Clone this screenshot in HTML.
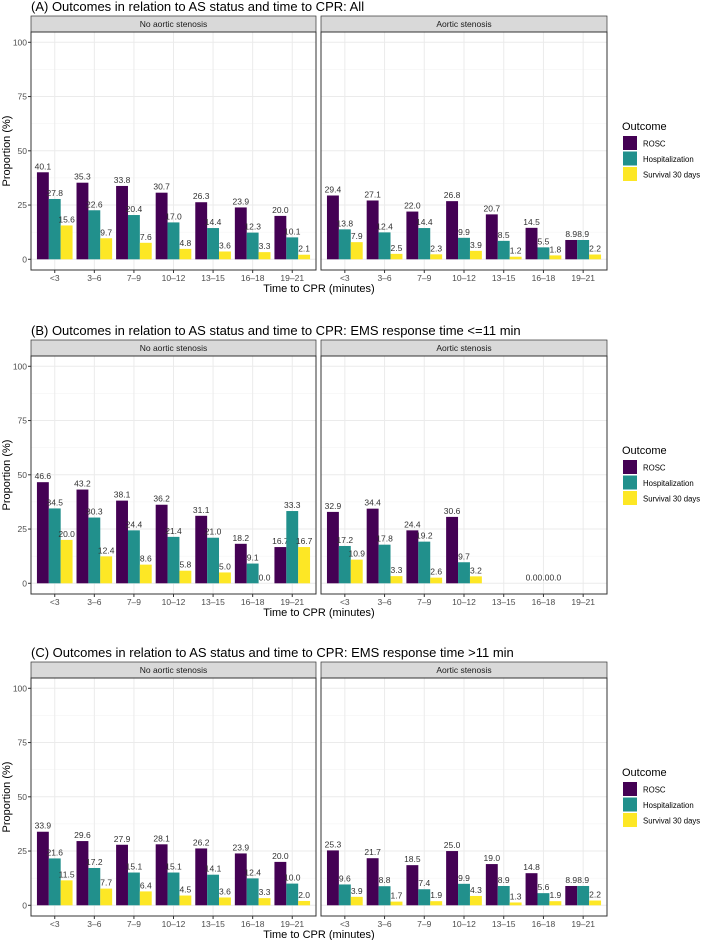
<!DOCTYPE html>
<html><head><meta charset="utf-8"><style>
html,body{margin:0;padding:0;background:#fff;}
svg{display:block;font-family:"Liberation Sans",Arial,sans-serif;}
</style></head><body>
<svg id="fig" width="702" height="940" viewBox="0 0 702 940" xmlns="http://www.w3.org/2000/svg"></svg>
<script>
const categories = ["<3","3\u20136","7\u20139","10\u201312","13\u201315","16\u201318","19\u201321"];
const seriesNames = ["ROSC","Hospitalization","Survival 30 days"];
const panelTitles = ["(A) Outcomes in relation to AS status and time to CPR: All",
 "(B) Outcomes in relation to AS status and time to CPR: EMS response time <=11 min",
 "(C) Outcomes in relation to AS status and time to CPR: EMS response time >11 min"];
const facetNames = ["No aortic stenosis","Aortic stenosis"];
const yTicks = [0,25,50,75,100];
// A
const aNoRosc = [40.1,35.3,33.8,30.7,26.3,23.9,20.0];
const aNoHosp = [27.8,22.6,20.4,17.0,14.4,12.3,10.1];
const aNoSurv = [15.6,9.7,7.6,4.8,3.6,3.3,2.1];
const aAsRosc = [29.4,27.1,22.0,26.8,20.7,14.5,8.9];
const aAsHosp = [13.8,12.4,14.4,9.9,8.5,5.5,8.9];
const aAsSurv = [7.9,2.5,2.3,3.9,1.2,1.8,2.2];
// B
const bNoRosc = [46.6,43.2,38.1,36.2,31.1,18.2,16.7];
const bNoHosp = [34.5,30.3,24.4,21.4,21.0,9.1,33.3];
const bNoSurv = [20.0,12.4,8.6,5.8,5.0,0.0,16.7];
const bAsRosc = [32.9,34.4,24.4,30.6,null,0.0,null];
const bAsHosp = [17.2,17.8,19.2,9.7,null,0.0,null];
const bAsSurv = [10.9,3.3,2.6,3.2,null,0.0,null];
// C
const cNoRosc = [33.9,29.6,27.9,28.1,26.2,23.9,20.0];
const cNoHosp = [21.6,17.2,15.1,15.1,14.1,12.4,10.0];
const cNoSurv = [11.5,7.7,6.4,4.5,3.6,3.3,2.0];
const cAsRosc = [25.3,21.7,18.5,25.0,19.0,14.8,8.9];
const cAsHosp = [9.6,8.8,7.4,9.9,8.9,5.6,8.9];
const cAsSurv = [3.9,1.7,1.9,4.3,1.3,1.9,2.2];

const panelsData = [
 [[aNoRosc,aNoHosp,aNoSurv],[aAsRosc,aAsHosp,aAsSurv]],
 [[bNoRosc,bNoHosp,bNoSurv],[bAsRosc,bAsHosp,bAsSurv]],
 [[cNoRosc,cNoHosp,cNoSurv],[cAsRosc,cAsHosp,cAsSurv]]
];
const colors = ["#440154","#21908C","#FDE725"];
const NS="http://www.w3.org/2000/svg";
const svg=document.getElementById('fig');
function mk(tag,attrs,parent,text){const e=document.createElementNS(NS,tag);for(const k in attrs)e.setAttribute(k,attrs[k]);if(text!==undefined)e.textContent=text;(parent||svg).appendChild(e);return e;}

const offsets=[0,324,646];
const facetX=[[31,316],[321,607]];
offsets.forEach((off,pi)=>{
  const g=mk('g',{});
  
  
  const stripTop=16+off, panTop=32+off, y100=42.3+off, y0=259.3+off, panBot=270+off;
  const yS=v=>y0+(y100-y0)*v/100;
  const t=mk('text',{x:31,y:11+off,'font-size':13,fill:'#000'},g,panelTitles[pi]);
  
  
  const yt=mk('text',{x:0,y:0,'font-size':11,fill:'#000','text-anchor':'middle',transform:`translate(10,${(panTop+panBot)/2}) rotate(-90)`},g,'Proportion (%)');
  
  
  const xt=mk('text',{x:319,y:292+off,'font-size':11,fill:'#000','text-anchor':'middle'},g,'Time to CPR (minutes)');
  
  
  facetX.forEach(([x0,x1],fi)=>{
    const bw=(x1-x0)/7.2;
    const xC=i=>x0+bw*(0.6+i);
    const s=mk('rect',{x:x0,y:stripTop,width:x1-x0,height:panTop-stripTop,fill:'#d9d9d9',stroke:'#333','stroke-width':0.7},g);
    
    
    const st=mk('text',{x:(x0+x1)/2,y:panTop-5,'font-size':8.5,fill:'#1a1a1a','text-anchor':'middle'},g,facetNames[fi]);
    
    
    for(let v=12.5;v<=100;v+=25) mk('line',{x1:x0,x2:x1,y1:yS(v),y2:yS(v),stroke:'#f2f2f2','stroke-width':0.5},g);
    yTicks.forEach(v=>mk('line',{x1:x0,x2:x1,y1:yS(v),y2:yS(v),stroke:'#ebebeb','stroke-width':1},g));
    categories.forEach((c,i)=>mk('line',{x1:xC(i),x2:xC(i),y1:panTop,y2:panBot,stroke:'#ebebeb','stroke-width':1},g));
    panelsData[pi][fi].forEach((arr,si)=>{
      arr.forEach((v,i)=>{
        if(v===null)return;
        const bx=xC(i)+(si-1.5)*bw*0.3;
        const r=mk('rect',{x:bx,y:yS(v),width:bw*0.3,height:y0-yS(v),fill:colors[si]},g);
        
        
        const l=mk('text',{x:bx+bw*0.15,y:yS(v)-3,'font-size':8.5,fill:'#333','text-anchor':'middle'},g,v.toFixed(1));
        
        
      });
    });
    mk('rect',{x:x0,y:panTop,width:x1-x0,height:panBot-panTop,fill:'none',stroke:'#333','stroke-width':1},g);
    categories.forEach((c,i)=>{
      mk('line',{x1:xC(i),x2:xC(i),y1:panBot,y2:panBot+3,stroke:'#333'},g);
      const tl=mk('text',{x:xC(i),y:panBot+11,'font-size':8.5,fill:'#4d4d4d','text-anchor':'middle'},g,c);
      
      
    });
    if(fi===0){
      yTicks.forEach(v=>{
        mk('line',{x1:x0-3,x2:x0,y1:yS(v),y2:yS(v),stroke:'#333'},g);
        const yl=mk('text',{x:x0-4,y:yS(v)+3,'font-size':8.5,fill:'#4d4d4d','text-anchor':'end'},g,String(v));
        
        
      });
    }
  });
  const lg=mk('g',{},g);
  
  
  mk('text',{x:622,y:130+off,'font-size':11,fill:'#000'},lg,'Outcome');
  seriesNames.forEach((n,si)=>{
    const ky=136+off+si*15.5;
    const k=mk('rect',{x:623,y:ky,width:14,height:14,fill:colors[si]},lg);
    
    
    const kt=mk('text',{x:643,y:ky+10.5,'font-size':7.8,fill:'#000'},lg,n);
    
    
  });
});
</script>
</body></html>
